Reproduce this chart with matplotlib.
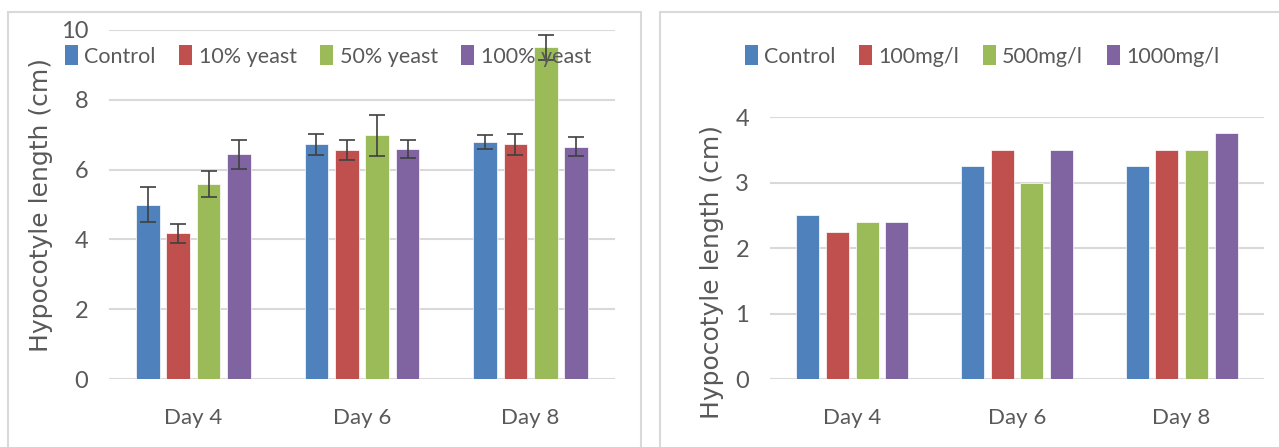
import numpy as np
import matplotlib
matplotlib.use("Agg")
import matplotlib.pyplot as plt
from matplotlib.patches import Rectangle, Patch

days = ["Day 4", "Day 6", "Day 8"]

# left chart: yeast treatment (mean and error)
yeast_labels = ["Control", "10% yeast", "50% yeast", "100% yeast"]
yeast_control = [5.0, 6.73, 6.8]
yeast_10 = [4.17, 6.56, 6.73]
yeast_50 = [5.58, 6.98, 9.5]
yeast_100 = [6.44, 6.59, 6.65]
yeast_control_err = [0.5, 0.3, 0.2]
yeast_10_err = [0.28, 0.28, 0.3]
yeast_50_err = [0.37, 0.58, 0.37]
yeast_100_err = [0.41, 0.27, 0.27]

# right chart: concentration
conc_labels = ["Control", "100mg/l", "500mg/l", "1000mg/l"]
conc_control = [2.5, 3.25, 3.25]
conc_100 = [2.25, 3.5, 3.5]
conc_500 = [2.4, 3.0, 3.5]
conc_1000 = [2.4, 3.5, 3.75]

colors = ["#4F81BD", "#C0504D", "#9BBB59", "#8064A2"]
text_col = "#595959"
grid_col = "#D9D9D9"

plt.rcParams["font.family"] = ["Lato", "DejaVu Sans"]

fig = plt.figure(figsize=(12.79, 4.47), dpi=100)

# chart frames
W, H = 1279, 447
for x0, x1 in [(8, 641), (660, 1285)]:
    fig.patches.append(Rectangle((x0 / W, -0.05), (x1 - x0) / W, 1.05 - 12 / H,
                                 transform=fig.transFigure, fill=False,
                                 edgecolor=grid_col, linewidth=1.5))

ax1 = fig.add_axes([109 / W, 1 - 379 / H, 506 / W, 349 / H])
ax2 = fig.add_axes([770 / W, 1 - 379 / H, 494 / W, 262 / H])

x = np.arange(len(days))
width = 0.14
step = 0.18
offsets = (np.arange(4) - 1.5) * step


def style_axis(ax, ymax, ystep):
    ax.set_xlim(-0.5, 2.5)
    ax.set_ylim(0, ymax)
    ax.set_yticks(np.arange(0, ymax + 0.01, ystep))
    ax.set_yticklabels([f"{v:g}" for v in np.arange(0, ymax + 0.01, ystep)])
    ax.set_xticks(x)
    ax.set_xticklabels(days)
    for s in ax.spines.values():
        s.set_visible(False)
    ax.grid(axis="y", color=grid_col, linewidth=1.5)
    ax.set_axisbelow(True)
    ax.tick_params(axis="y", length=0, pad=15, labelsize=17, labelcolor=text_col)
    ax.tick_params(axis="x", length=0, pad=21, labelsize=16, labelcolor=text_col)
    ax.set_ylabel("Hypocotyle length (cm)", family="DejaVu Sans", fontsize=18,
                  color=text_col)


yeast_vals = [yeast_control, yeast_10, yeast_50, yeast_100]
yeast_errs = [yeast_control_err, yeast_10_err, yeast_50_err, yeast_100_err]
for i in range(4):
    ax1.bar(x + offsets[i], yeast_vals[i], width, color=colors[i],
            edgecolor="white", linewidth=0.5, label=yeast_labels[i],
            yerr=yeast_errs[i], error_kw=dict(ecolor="#404040", elinewidth=1.2,
                                              capsize=6, capthick=1.2))
style_axis(ax1, 10, 2)
ax1.yaxis.set_label_coords(-0.111, 0.5)

conc_vals = [conc_control, conc_100, conc_500, conc_1000]
for i in range(4):
    ax2.bar(x + offsets[i], conc_vals[i], width, color=colors[i],
            edgecolor="white", linewidth=0.5, label=conc_labels[i])
style_axis(ax2, 4, 1)
ax2.yaxis.set_label_coords(-0.093, 0.41)

handles = [Patch(facecolor=c) for c in colors]
leg_kw = dict(ncol=4, frameon=False, fontsize=15.5, handlelength=0.6,
              handleheight=1.0, handletextpad=0.3, columnspacing=1.1,
              labelcolor=text_col, loc="center")
fig.legend(handles, yeast_labels, bbox_to_anchor=(328 / W, 1 - 56 / H), **leg_kw)
fig.legend(handles, conc_labels, bbox_to_anchor=(982 / W, 1 - 56 / H), **leg_kw)

fig.savefig("out.png", dpi=100)
